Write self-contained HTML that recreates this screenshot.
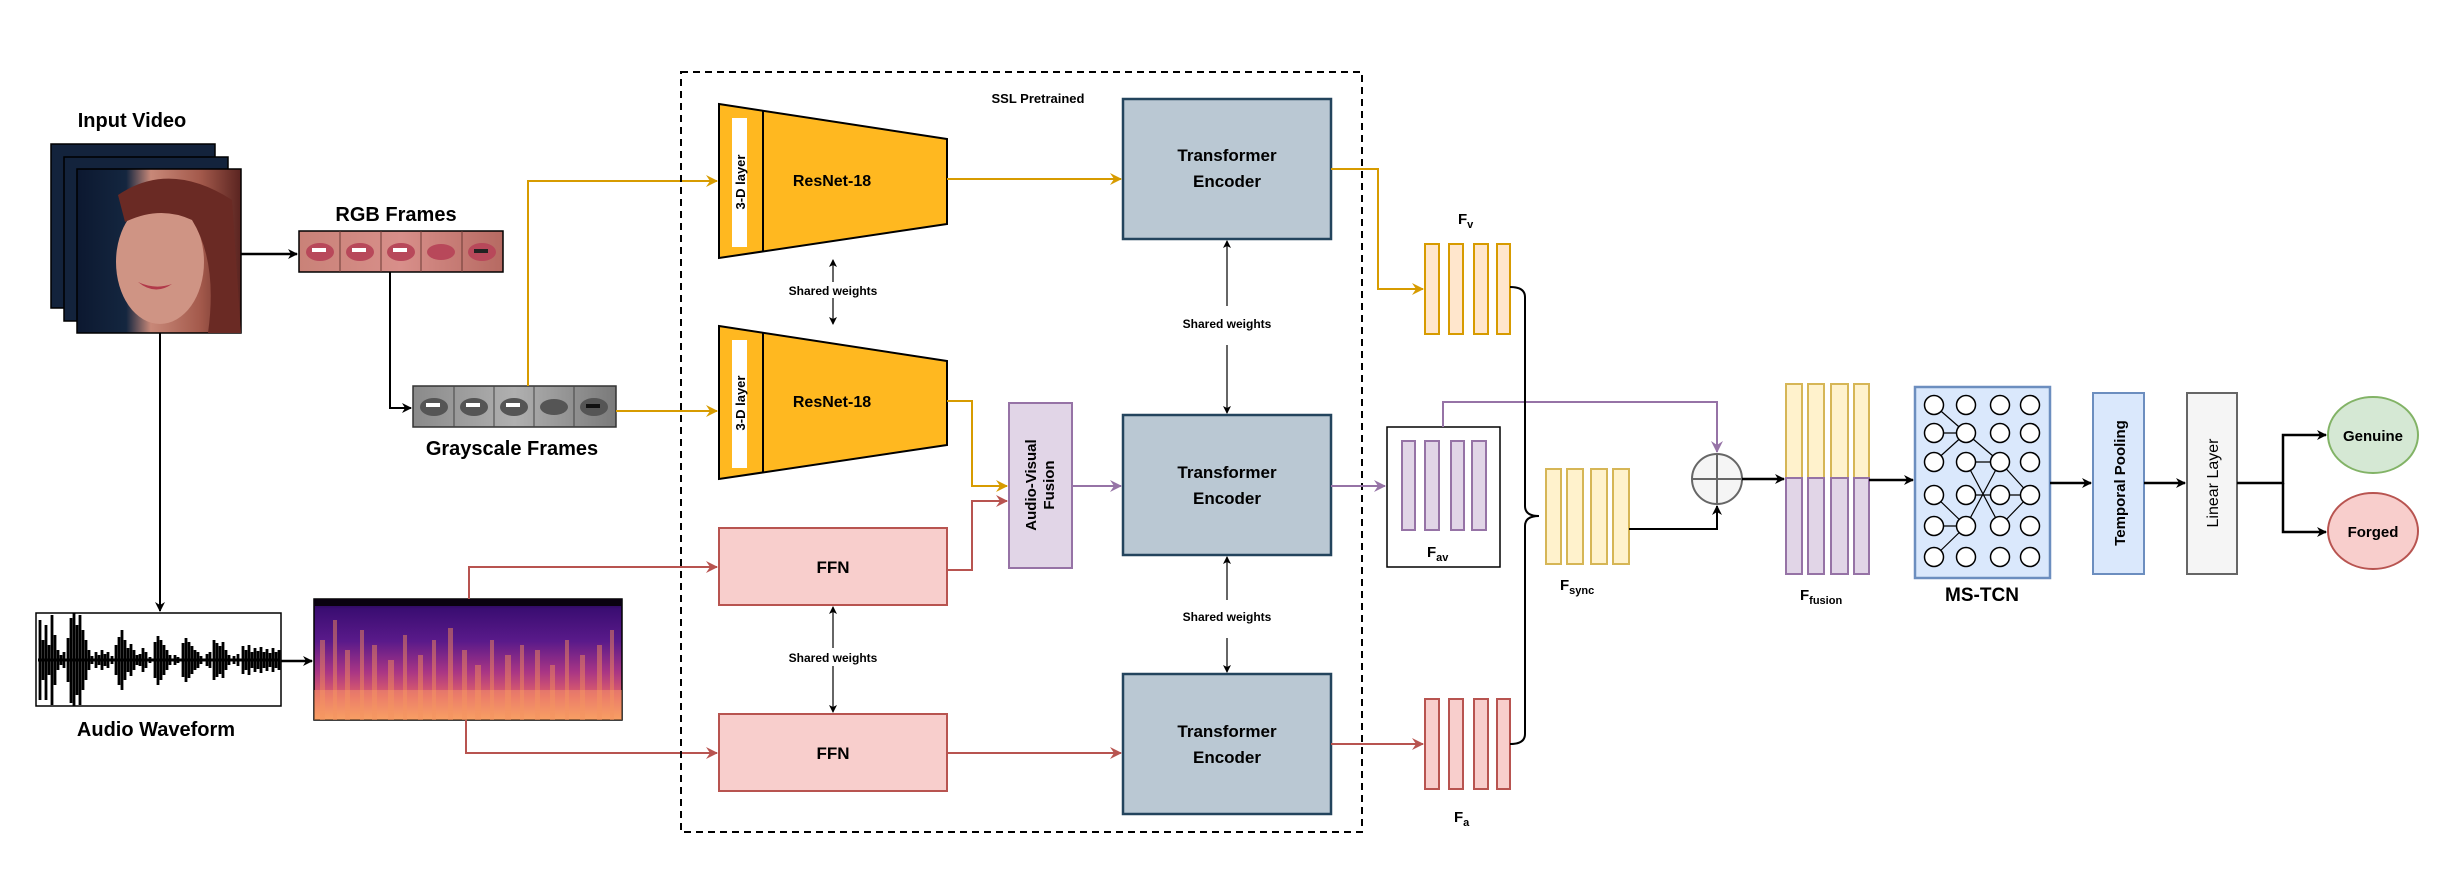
<!DOCTYPE html>
<html><head><meta charset="utf-8"><style>
html,body{margin:0;padding:0;background:#fff;}
svg{display:block;}
text{font-family:"Liberation Sans",Arial,sans-serif;font-weight:bold;fill:#000;}
</style></head><body>
<svg width="2464" height="870" viewBox="0 0 2464 870" xmlns="http://www.w3.org/2000/svg">
<defs>
<marker id="ak" markerWidth="10" markerHeight="10" refX="9" refY="5" orient="auto" markerUnits="userSpaceOnUse"><path d="M0,0 L10,5 L0,10 L3,5 z" fill="#000"/></marker>
<marker id="ao" markerWidth="12" markerHeight="12" refX="11" refY="6" orient="auto" markerUnits="userSpaceOnUse"><path d="M0,0 L12,6 L0,12 L4,6 z" fill="#d79b00"/></marker>
<marker id="ar" markerWidth="12" markerHeight="12" refX="11" refY="6" orient="auto" markerUnits="userSpaceOnUse"><path d="M0,0 L12,6 L0,12 L4,6 z" fill="#b85450"/></marker>
<marker id="ap" markerWidth="12" markerHeight="12" refX="11" refY="6" orient="auto" markerUnits="userSpaceOnUse"><path d="M0,0 L12,6 L0,12 L4,6 z" fill="#9673a6"/></marker>
<marker id="as" markerWidth="8" markerHeight="8" refX="7" refY="4" orient="auto-start-reverse" markerUnits="userSpaceOnUse"><path d="M0,0 L8,4 L0,8 L2,4 z" fill="#000"/></marker>
<linearGradient id="spec" x1="0" y1="0" x2="0" y2="1">
<stop offset="0" stop-color="#1a0640"/><stop offset="0.08" stop-color="#3a0d72"/><stop offset="0.35" stop-color="#5a1a8a"/><stop offset="0.6" stop-color="#a83585"/><stop offset="0.8" stop-color="#e0606a"/><stop offset="1" stop-color="#f9a060"/>
</linearGradient>
<linearGradient id="face" x1="0" y1="0" x2="1" y2="0">
<stop offset="0" stop-color="#0c1830"/><stop offset="0.3" stop-color="#14263f"/><stop offset="0.45" stop-color="#c88878"/><stop offset="0.75" stop-color="#a45a4c"/><stop offset="1" stop-color="#5a2420"/>
</linearGradient>
<linearGradient id="lips" x1="0" y1="0" x2="1" y2="0">
<stop offset="0" stop-color="#c98278"/><stop offset="0.5" stop-color="#d88f8a"/><stop offset="1" stop-color="#b66a62"/>
</linearGradient>
<linearGradient id="gray" x1="0" y1="0" x2="1" y2="0">
<stop offset="0" stop-color="#8a8a8a"/><stop offset="0.5" stop-color="#b0b0b0"/><stop offset="1" stop-color="#7a7a7a"/>
</linearGradient>
</defs>

<text x="132" y="127" font-size="20" text-anchor="middle">Input Video</text>
<rect x="51" y="144" width="164" height="164" fill="#13233c" stroke="#000" stroke-width="1.5"/>
<rect x="64" y="157" width="164" height="164" fill="#13233c" stroke="#000" stroke-width="1.5"/>
<rect x="77" y="169" width="164" height="164" fill="url(#face)" stroke="#000" stroke-width="1.5"/>
<ellipse cx="160" cy="262" rx="44" ry="62" fill="#cf9484"/>
<path d="M118,195 Q170,160 232,200 L241,333 L208,333 Q218,262 192,220 Q160,205 125,222 z" fill="#6a2a24"/>
<path d="M138,282 Q155,296 172,284 Q155,290 138,282z" fill="#b23a4a"/>
<line x1="241" y1="254" x2="297" y2="254" stroke="#000" stroke-width="2.5" marker-end="url(#ak)"/>

<text x="396" y="221" font-size="20" text-anchor="middle">RGB Frames</text>
<rect x="299" y="231" width="204" height="41" fill="url(#lips)" stroke="#000" stroke-width="1.5"/>
<g fill="#b8485a"><ellipse cx="320" cy="252" rx="14" ry="9"/><ellipse cx="360" cy="252" rx="14" ry="9"/><ellipse cx="401" cy="252" rx="14" ry="9"/><ellipse cx="441" cy="252" rx="14" ry="8"/><ellipse cx="482" cy="252" rx="14" ry="9"/></g>
<g fill="#fff"><rect x="312" y="248" width="14" height="4"/><rect x="352" y="248" width="14" height="4"/><rect x="393" y="248" width="14" height="4"/><rect x="474" y="249" width="14" height="4" fill="#222"/></g>
<g stroke="#6a3a34" stroke-width="1"><line x1="340" y1="231" x2="340" y2="272"/><line x1="381" y1="231" x2="381" y2="272"/><line x1="421" y1="231" x2="421" y2="272"/><line x1="462" y1="231" x2="462" y2="272"/></g>
<polyline points="390,272 390,408 411,408" fill="none" stroke="#000" stroke-width="2" marker-end="url(#ak)"/>

<rect x="413" y="386" width="203" height="41" fill="url(#gray)" stroke="#333" stroke-width="1.5"/>
<g fill="#555"><ellipse cx="434" cy="407" rx="14" ry="9"/><ellipse cx="474" cy="407" rx="14" ry="9"/><ellipse cx="514" cy="407" rx="14" ry="9"/><ellipse cx="554" cy="407" rx="14" ry="8"/><ellipse cx="594" cy="407" rx="14" ry="9"/></g>
<g fill="#fff"><rect x="426" y="403" width="14" height="4"/><rect x="466" y="403" width="14" height="4"/><rect x="506" y="403" width="14" height="4"/><rect x="586" y="404" width="14" height="4" fill="#111"/></g>
<g stroke="#444" stroke-width="1"><line x1="454" y1="386" x2="454" y2="427"/><line x1="494" y1="386" x2="494" y2="427"/><line x1="534" y1="386" x2="534" y2="427"/><line x1="574" y1="386" x2="574" y2="427"/></g>
<text x="512" y="455" font-size="20" text-anchor="middle">Grayscale Frames</text>

<polyline points="528,386 528,181 717,181" fill="none" stroke="#d79b00" stroke-width="2" marker-end="url(#ao)"/>
<line x1="616" y1="411" x2="717" y2="411" stroke="#d79b00" stroke-width="2" marker-end="url(#ao)"/>

<line x1="160" y1="333" x2="160" y2="611" stroke="#000" stroke-width="2" marker-end="url(#ak)"/>
<rect x="36" y="613" width="245" height="93" fill="#fff" stroke="#000" stroke-width="1.5"/>
<path stroke="#000" stroke-width="2.8" fill="none" d="
M40,620V700 M43,640V680 M46,625V700 M49,645V675 M52,615V705 M55,635V685 M58,650V670 M61,655V665 M64,652V668
M68,638V682 M71,618V703 M74,613V706 M77,625V695 M80,615V705 M83,630V690 M86,640V680 M89,650V670 M92,656V664
M96,652V668 M99,655V665 M102,650V670 M105,654V666 M108,652V668 M112,656V664
M116,645V675 M119,637V685 M122,630V690 M125,640V680 M128,648V672 M131,644V676 M134,650V670 M137,655V665
M140,654V666 M143,648V672 M146,652V668 M150,657V663
M155,642V678 M158,636V685 M161,640V680 M164,645V675 M167,650V670 M170,655V665
M175,655V665 M178,657V663
M183,643V677 M186,638V682 M189,642V678 M192,646V674 M195,650V670 M198,652V668 M201,656V664
M207,654V666 M210,652V668
M214,640V680 M217,643V677 M220,646V674 M223,642V678 M226,650V670 M229,655V665
M234,656V664 M238,654V666
M243,646V674 M246,650V670 M249,645V675 M252,652V668 M255,648V672 M258,651V669 M261,647V673 M264,652V668 M267,649V671 M270,653V667 M273,648V672 M276,652V668 M279,650V670"/>
<line x1="38" y1="660" x2="280" y2="660" stroke="#000" stroke-width="3"/>
<text x="156" y="736" font-size="20" text-anchor="middle">Audio Waveform</text>
<line x1="281" y1="661" x2="312" y2="661" stroke="#000" stroke-width="2.5" marker-end="url(#ak)"/>

<rect x="314" y="599" width="308" height="121" fill="url(#spec)" stroke="#000" stroke-width="1.5"/>
<rect x="314" y="599" width="308" height="7" fill="#0a0210"/>
<g fill="#f08a5c" opacity="0.5">
<rect x="320" y="640" width="5" height="80"/><rect x="333" y="620" width="4" height="100"/><rect x="345" y="650" width="5" height="70"/><rect x="360" y="630" width="4" height="90"/><rect x="372" y="645" width="5" height="75"/><rect x="388" y="660" width="6" height="60"/><rect x="403" y="635" width="4" height="85"/><rect x="418" y="655" width="5" height="65"/><rect x="432" y="640" width="4" height="80"/><rect x="448" y="628" width="5" height="92"/><rect x="462" y="650" width="5" height="70"/><rect x="475" y="665" width="6" height="55"/><rect x="490" y="640" width="4" height="80"/><rect x="505" y="655" width="6" height="65"/><rect x="520" y="645" width="4" height="75"/><rect x="535" y="650" width="5" height="70"/><rect x="550" y="665" width="5" height="55"/><rect x="565" y="640" width="4" height="80"/><rect x="580" y="655" width="5" height="65"/><rect x="597" y="645" width="5" height="75"/><rect x="610" y="630" width="4" height="90"/>
</g>
<rect x="314" y="690" width="308" height="30" fill="#f8a068" opacity="0.45"/>
<polyline points="469,599 469,567 717,567" fill="none" stroke="#b85450" stroke-width="2" marker-end="url(#ar)"/>
<polyline points="466,720 466,753 717,753" fill="none" stroke="#b85450" stroke-width="2" marker-end="url(#ar)"/>

<rect x="681" y="72" width="681" height="760" fill="none" stroke="#000" stroke-width="2" stroke-dasharray="7,5"/>
<text x="1038" y="103" font-size="13" text-anchor="middle">SSL Pretrained</text>

<g>
<polygon points="719,104 947,139 947,224 719,258" fill="#ffb820" stroke="#000" stroke-width="2"/>
<line x1="763" y1="111" x2="763" y2="251" stroke="#000" stroke-width="2"/>
<rect x="732" y="118" width="15" height="129" fill="#fff"/>
<text transform="translate(745,182) rotate(-90)" font-size="13" text-anchor="middle">3-D layer</text>
<text x="832" y="186" font-size="16" text-anchor="middle">ResNet-18</text>
</g>
<g>
<polygon points="719,326 947,361 947,445 719,479" fill="#ffb820" stroke="#000" stroke-width="2"/>
<line x1="763" y1="333" x2="763" y2="472" stroke="#000" stroke-width="2"/>
<rect x="732" y="340" width="15" height="128" fill="#fff"/>
<text transform="translate(745,403) rotate(-90)" font-size="13" text-anchor="middle">3-D layer</text>
<text x="832" y="407" font-size="16" text-anchor="middle">ResNet-18</text>
</g>
<line x1="833" y1="282" x2="833" y2="260" stroke="#000" stroke-width="1.2" marker-end="url(#as)"/>
<line x1="833" y1="298" x2="833" y2="324" stroke="#000" stroke-width="1.2" marker-end="url(#as)"/>
<text x="833" y="295" font-size="12" text-anchor="middle">Shared weights</text>

<line x1="947" y1="179" x2="1121" y2="179" stroke="#d79b00" stroke-width="2" marker-end="url(#ao)"/>
<polyline points="947,401 972,401 972,486 1007,486" fill="none" stroke="#d79b00" stroke-width="2" marker-end="url(#ao)"/>

<rect x="719" y="528" width="228" height="77" fill="#f8cecc" stroke="#b85450" stroke-width="2"/>
<text x="833" y="573" font-size="17" text-anchor="middle">FFN</text>
<rect x="719" y="714" width="228" height="77" fill="#f8cecc" stroke="#b85450" stroke-width="2"/>
<text x="833" y="759" font-size="17" text-anchor="middle">FFN</text>
<line x1="833" y1="648" x2="833" y2="607" stroke="#000" stroke-width="1.2" marker-end="url(#as)"/>
<line x1="833" y1="666" x2="833" y2="712" stroke="#000" stroke-width="1.2" marker-end="url(#as)"/>
<text x="833" y="662" font-size="12" text-anchor="middle">Shared weights</text>
<polyline points="947,570 972,570 972,501 1007,501" fill="none" stroke="#b85450" stroke-width="2" marker-end="url(#ar)"/>
<line x1="947" y1="753" x2="1121" y2="753" stroke="#b85450" stroke-width="2" marker-end="url(#ar)"/>

<rect x="1009" y="403" width="63" height="165" fill="#e1d5e7" stroke="#9673a6" stroke-width="2"/>
<text transform="translate(1036,485) rotate(-90)" font-size="15" text-anchor="middle">Audio-Visual</text>
<text transform="translate(1054,485) rotate(-90)" font-size="15" text-anchor="middle">Fusion</text>
<line x1="1072" y1="486" x2="1121" y2="486" stroke="#9673a6" stroke-width="2" marker-end="url(#ap)"/>

<g fill="#bac8d3" stroke="#23445d" stroke-width="2.5">
<rect x="1123" y="99" width="208" height="140"/>
<rect x="1123" y="415" width="208" height="140"/>
<rect x="1123" y="674" width="208" height="140"/>
</g>
<g font-size="17" text-anchor="middle">
<text x="1227" y="161">Transformer</text><text x="1227" y="187">Encoder</text>
<text x="1227" y="478">Transformer</text><text x="1227" y="504">Encoder</text>
<text x="1227" y="737">Transformer</text><text x="1227" y="763">Encoder</text>
</g>
<line x1="1227" y1="306" x2="1227" y2="241" stroke="#000" stroke-width="1.2" marker-end="url(#as)"/>
<line x1="1227" y1="345" x2="1227" y2="413" stroke="#000" stroke-width="1.2" marker-end="url(#as)"/>
<text x="1227" y="328" font-size="12" text-anchor="middle">Shared weights</text>
<line x1="1227" y1="600" x2="1227" y2="557" stroke="#000" stroke-width="1.2" marker-end="url(#as)"/>
<line x1="1227" y1="638" x2="1227" y2="672" stroke="#000" stroke-width="1.2" marker-end="url(#as)"/>
<text x="1227" y="621" font-size="12" text-anchor="middle">Shared weights</text>

<polyline points="1331,169 1378,169 1378,289 1423,289" fill="none" stroke="#d79b00" stroke-width="2" marker-end="url(#ao)"/>
<line x1="1331" y1="486" x2="1385" y2="486" stroke="#9673a6" stroke-width="2" marker-end="url(#ap)"/>
<line x1="1331" y1="744" x2="1423" y2="744" stroke="#b85450" stroke-width="2" marker-end="url(#ar)"/>

<g fill="#ffe6cc" stroke="#d79b00" stroke-width="2">
<rect x="1425" y="244" width="14" height="90"/><rect x="1449" y="244" width="14" height="90"/><rect x="1474" y="244" width="14" height="90"/><rect x="1497" y="244" width="13" height="90"/>
</g>
<text x="1458" y="224" font-size="15">F<tspan font-size="11" dy="4">v</tspan></text>
<g fill="#f8cecc" stroke="#b85450" stroke-width="2">
<rect x="1425" y="699" width="14" height="90"/><rect x="1449" y="699" width="14" height="90"/><rect x="1474" y="699" width="14" height="90"/><rect x="1497" y="699" width="13" height="90"/>
</g>
<text x="1454" y="822" font-size="15">F<tspan font-size="11" dy="4">a</tspan></text>
<rect x="1387" y="427" width="113" height="140" fill="#fff" stroke="#000" stroke-width="1.5"/>
<g fill="#e1d5e7" stroke="#9673a6" stroke-width="2">
<rect x="1402" y="441" width="13" height="89"/><rect x="1425" y="441" width="14" height="89"/><rect x="1451" y="441" width="13" height="89"/><rect x="1472" y="441" width="14" height="89"/>
</g>
<text x="1427" y="557" font-size="15">F<tspan font-size="11" dy="4">av</tspan></text>
<polyline points="1443,427 1443,402 1717,402 1717,452" fill="none" stroke="#9673a6" stroke-width="2" marker-end="url(#ap)"/>

<path d="M1510,287 Q1525,287 1525,297 L1525,506 Q1525,516 1539,516 Q1525,516 1525,526 L1525,734 Q1525,744 1510,744" fill="none" stroke="#000" stroke-width="2"/>

<g fill="#fff2cc" stroke="#d6b656" stroke-width="2">
<rect x="1546" y="469" width="15" height="95"/><rect x="1567" y="469" width="16" height="95"/><rect x="1591" y="469" width="16" height="95"/><rect x="1613" y="469" width="16" height="95"/>
</g>
<text x="1560" y="590" font-size="15">F<tspan font-size="11" dy="4">sync</tspan></text>
<polyline points="1629,529 1717,529 1717,506" fill="none" stroke="#000" stroke-width="2" marker-end="url(#ak)"/>

<circle cx="1717" cy="479" r="25" fill="#f5f5f5" stroke="#666" stroke-width="2"/>
<line x1="1692" y1="479" x2="1742" y2="479" stroke="#666" stroke-width="2"/>
<line x1="1717" y1="454" x2="1717" y2="504" stroke="#666" stroke-width="2"/>
<line x1="1742" y1="479" x2="1784" y2="479" stroke="#000" stroke-width="2.5" marker-end="url(#ak)"/>

<g stroke-width="2">
<g fill="#fff2cc" stroke="#d6b656"><rect x="1786" y="384" width="16" height="94"/><rect x="1808" y="384" width="16" height="94"/><rect x="1831" y="384" width="17" height="94"/><rect x="1854" y="384" width="15" height="94"/></g>
<g fill="#e1d5e7" stroke="#9673a6"><rect x="1786" y="478" width="16" height="96"/><rect x="1808" y="478" width="16" height="96"/><rect x="1831" y="478" width="17" height="96"/><rect x="1854" y="478" width="15" height="96"/></g>
</g>
<text x="1800" y="600" font-size="15">F<tspan font-size="11" dy="4">fusion</tspan></text>
<line x1="1869" y1="480" x2="1913" y2="480" stroke="#000" stroke-width="2.5" marker-end="url(#ak)"/>

<rect x="1915" y="387" width="135" height="191" fill="#dae8fc" stroke="#6c8ebf" stroke-width="2.5"/>
<g stroke="#000" stroke-width="1.2" fill="none">
<line x1="1934" y1="405" x2="1966" y2="433"/><line x1="1934" y1="433" x2="1966" y2="433"/><line x1="1934" y1="462" x2="1966" y2="433"/>
<line x1="1966" y1="433" x2="2000" y2="462"/><line x1="1966" y1="462" x2="2000" y2="462"/><line x1="1966" y1="462" x2="2000" y2="526"/>
<line x1="1966" y1="495" x2="2000" y2="495"/><line x1="1966" y1="526" x2="2000" y2="462"/>
<line x1="1934" y1="495" x2="1966" y2="526"/><line x1="1934" y1="526" x2="1966" y2="526"/><line x1="1934" y1="557" x2="1966" y2="526"/>
<line x1="2000" y1="462" x2="2030" y2="495"/><line x1="2000" y1="495" x2="2030" y2="495"/><line x1="2000" y1="526" x2="2030" y2="495"/>
</g>
<g fill="#fff" stroke="#000" stroke-width="1.5">
<circle cx="1934" cy="405" r="9.5"/><circle cx="1966" cy="405" r="9.5"/><circle cx="2000" cy="405" r="9.5"/><circle cx="2030" cy="405" r="9.5"/>
<circle cx="1934" cy="433" r="9.5"/><circle cx="1966" cy="433" r="9.5"/><circle cx="2000" cy="433" r="9.5"/><circle cx="2030" cy="433" r="9.5"/>
<circle cx="1934" cy="462" r="9.5"/><circle cx="1966" cy="462" r="9.5"/><circle cx="2000" cy="462" r="9.5"/><circle cx="2030" cy="462" r="9.5"/>
<circle cx="1934" cy="495" r="9.5"/><circle cx="1966" cy="495" r="9.5"/><circle cx="2000" cy="495" r="9.5"/><circle cx="2030" cy="495" r="9.5"/>
<circle cx="1934" cy="526" r="9.5"/><circle cx="1966" cy="526" r="9.5"/><circle cx="2000" cy="526" r="9.5"/><circle cx="2030" cy="526" r="9.5"/>
<circle cx="1934" cy="557" r="9.5"/><circle cx="1966" cy="557" r="9.5"/><circle cx="2000" cy="557" r="9.5"/><circle cx="2030" cy="557" r="9.5"/>
</g>
<text x="1982" y="601" font-size="19" text-anchor="middle">MS-TCN</text>
<line x1="2050" y1="483" x2="2091" y2="483" stroke="#000" stroke-width="2.5" marker-end="url(#ak)"/>

<rect x="2093" y="393" width="51" height="181" fill="#dae8fc" stroke="#6c8ebf" stroke-width="2"/>
<text transform="translate(2125,483) rotate(-90)" font-size="15" text-anchor="middle">Temporal Pooling</text>
<line x1="2144" y1="483" x2="2185" y2="483" stroke="#000" stroke-width="2.5" marker-end="url(#ak)"/>

<rect x="2187" y="393" width="50" height="181" fill="#f5f5f5" stroke="#666" stroke-width="2"/>
<text transform="translate(2218,483) rotate(-90)" font-size="16" text-anchor="middle" style="font-weight:normal">Linear Layer</text>

<polyline points="2237,483 2283,483 2283,435 2326,435" fill="none" stroke="#000" stroke-width="2.5" marker-end="url(#ak)"/>
<polyline points="2283,483 2283,532 2326,532" fill="none" stroke="#000" stroke-width="2.5" marker-end="url(#ak)"/>
<ellipse cx="2373" cy="435" rx="45" ry="38" fill="#d5e8d4" stroke="#82b366" stroke-width="2"/>
<text x="2373" y="441" font-size="15" text-anchor="middle">Genuine</text>
<ellipse cx="2373" cy="531" rx="45" ry="38" fill="#f8cecc" stroke="#b85450" stroke-width="2"/>
<text x="2373" y="537" font-size="15" text-anchor="middle">Forged</text>
</svg>
</body></html>
